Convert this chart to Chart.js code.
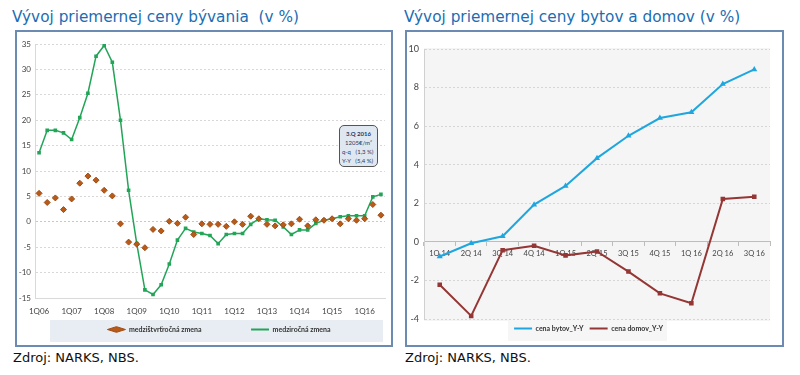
<!DOCTYPE html>
<html>
<head>
<meta charset="utf-8">
<script src="https://cdn.jsdelivr.net/npm/chart.js@4.4.1/dist/chart.umd.min.js"></script>
<style>
  body { margin: 0; background: #fff; }
  #wrap { position: relative; width: 800px; height: 375px; overflow: hidden; font-family: "DejaVu Sans", sans-serif; }
  .title { position: absolute; top: 8px; font-size: 15.3px; color: #1b6db3; white-space: nowrap; }
  .src { position: absolute; top: 350px; font-size: 13px; color: #111; white-space: nowrap; }
  .frame { position: absolute; top: 30px; height: 313px; border: 2px solid #6b8bb3; }
  .box { position: absolute; }
  .callout { position: absolute; left: 339px; top: 125px; width: 37px; height: 40px; background: #dfe7f1;
    border: 1px solid #555; border-radius: 5px; font-family: Lato, sans-serif; font-size: 6px; color: #1f3a66; line-height: 9px; }
  .callout div { white-space: nowrap; }
</style>
</head>
<body>
<div id="wrap">
  <div class="title" style="left:12px">Vývoj priemernej ceny bývania&nbsp; (v %)</div>
  <div class="title" style="left:404px">Vývoj priemernej ceny bytov a domov (v %)</div>
  <div class="frame" style="left:15px; width:374px"></div>
  <div class="frame" style="left:405px; width:375px"></div>
  <div class="box" style="left:17px; top:32px; width:374px; height:311px"><canvas id="left"></canvas></div>
  <div class="box" style="left:407px; top:32px; width:375px; height:311px"><canvas id="right"></canvas></div>
  <div class="callout">
    <div style="text-align:center; font-weight:bold; margin-top:3px">3.Q 2016</div>
    <div style="text-align:center">1205€/m²</div>
    <div style="padding-left:2px">q-q&nbsp;&nbsp; (1,3 %)</div>
    <div style="padding-left:2px">Y-Y&nbsp;&nbsp; (5,4 %)</div>
  </div>
  <div class="src" style="left:13px">Zdroj: NARKS, NBS.</div>
  <div class="src" style="left:405px">Zdroj: NARKS, NBS.</div>
</div>
<script>
// ľavý graf - štvrťroky 1Q06 .. 3Q16
const quarters = [
  '1Q06','2Q06','3Q06','4Q06','1Q07','2Q07','3Q07','4Q07',
  '1Q08','2Q08','3Q08','4Q08','1Q09','2Q09','3Q09','4Q09',
  '1Q10','2Q10','3Q10','4Q10','1Q11','2Q11','3Q11','4Q11',
  '1Q12','2Q12','3Q12','4Q12','1Q13','2Q13','3Q13','4Q13',
  '1Q14','2Q14','3Q14','4Q14','1Q15','2Q15','3Q15','4Q15',
  '1Q16','2Q16','3Q16'
];
const qqChange = [
  5.6, 3.8, 4.7, 2.4, 4.5, 7.6, 9.0, 8.2,
  6.2, 5.1, -0.4, -4.0, -4.4, -5.1, -1.5, -1.8,
  0.1, -0.3, 0.9, -2.5, -0.4, -0.5, -0.5, -0.9,
  0.0, -0.5, 1.1, 0.6, -0.5, -0.8, -0.6, -0.4,
  0.5, -0.8, 0.4, 0.3, 0.6, -0.4, 0.6, 0.3,
  0.6, 3.4, 1.3
];
const yyChange = [
  13.6, 18.0, 18.0, 17.5, 16.2, 20.5, 25.3, 32.6,
  34.7, 31.4, 20.0, 6.2, -4.3, -13.4, -14.3, -12.4,
  -8.3, -3.6, -1.3, -2.0, -2.3, -2.7, -4.3, -2.5,
  -2.3, -2.3, -0.5, 0.6, 0.4, 0.3, -1.0, -2.5,
  -1.6, -1.6, -0.3, 0.3, 0.6, 1.0, 1.2, 1.2,
  1.2, 4.9, 5.4
];

// pravý graf
const quartersRight = ['1Q 14','2Q 14','3Q 14','4Q 14','1Q 15','2Q 15','3Q 15','4Q 15','1Q 16','2Q 16','3Q 16'];
const flatsYY = [-0.76, -0.07, 0.29, 1.93, 2.9, 4.34, 5.5, 6.42, 6.72, 8.18, 8.94];
const housesYY = [-2.22, -3.84, -0.43, -0.2, -0.7, -0.5, -1.54, -2.67, -3.18, 2.22, 2.34];

const tickFont = { family: 'Lato', size: 8 };
const legendFont = { family: 'Lato', size: 7, weight: 'bold' };

// pozadie legendy a plochy grafu, posun legendy
const backdrop = {
  id: 'backdrop',
  afterLayout(chart, args, opts) {
    if (opts.legendShift && chart.legend) {
      chart.legend.left += opts.legendShift * 2;
    }
  },
  beforeDraw(chart, args, opts) {
    const ctx = chart.ctx, a = chart.chartArea, lg = chart.legend;
    ctx.save();
    if (opts.plotBg) {
      ctx.fillStyle = opts.plotBg;
      ctx.fillRect(a.left, a.top - 1, a.right - a.left, a.bottom - a.top + 3);
    }
    if (opts.legendBg && lg) {
      let l, r;
      if (opts.legendFull) {
        l = a.left + 15; r = a.right - 2;
      } else {
        const hb = lg.legendHitBoxes;
        l = hb[0].left - 6;
        r = hb[hb.length - 1].left + hb[hb.length - 1].width + 4;
      }
      ctx.fillStyle = opts.legendBg;
      ctx.fillRect(l, lg.top + 1, r - l, lg.height - 2);
    }
    ctx.restore();
  }
};

new Chart(document.getElementById('left'), {
  type: 'line',
  data: {
    labels: quarters,
    datasets: [{
      label: 'medzištvrťročná zmena',
      data: qqChange,
      showLine: false,
      pointStyle: 'rectRot',
      pointRadius: 3,
      pointBackgroundColor: '#b85a18',
      pointBorderColor: '#a04c14',
      borderColor: '#b85a18',
      backgroundColor: '#b85a18'
    }, {
      label: 'medziročná zmena',
      data: yyChange,
      borderColor: '#23a558',
      backgroundColor: '#23a558',
      borderWidth: 1.5,
      pointStyle: 'rect',
      pointRadius: 1.5,
      tension: 0
    }]
  },
  options: {
    responsive: true,
    maintainAspectRatio: false,
    animation: false,
    layout: { padding: { top: 12, right: 6, left: 0, bottom: 0 } },
    scales: {
      x: {
        offset: true,
        grid: { display: false, drawTicks: false },
        border: { color: '#d9d9d9' },
        ticks: {
          autoSkip: false, maxRotation: 0, padding: 9, font: tickFont, color: '#444',
          callback: function (v) {
            const l = this.getLabelForValue(v);
            return l.startsWith('1Q') ? l : '';
          }
        },
        afterFit: s => { s.height = 21; }
      },
      y: {
        min: -15, max: 35,
        ticks: { stepSize: 5, font: tickFont, color: '#444', padding: 4 },
        grid: {
          drawTicks: false,
          color: ctx => ctx.tick && ctx.tick.value === 0 ? '#c8c8c8' : '#d8d8d8'
        },
        border: { dash: [2, 2], color: '#d9d9d9' },
        afterFit: s => { s.width = 18; }
      }
    },
    plugins: {
      backdrop: { legendBg: '#e8edf3', legendFull: true, legendShift: 18 },
      tooltip: { enabled: false },
      legend: {
        position: 'bottom',
        labels: {
          usePointStyle: true,
          boxHeight: 4,
          pointStyleWidth: 18,
          padding: 7,
          font: legendFont,
          color: '#333',
          generateLabels: chart => Chart.defaults.plugins.legend.labels.generateLabels(chart).map((it, i) => {
            it.pointStyle = i === 0 ? 'rectRot' : 'line';
            it.lineWidth = i === 0 ? 1 : 2;
            if (i === 0) it.text += '\u00a0'.repeat(25);
            return it;
          })
        }
      }
    }
  },
  plugins: [backdrop]
});

new Chart(document.getElementById('right'), {
  type: 'line',
  data: {
    labels: quartersRight,
    datasets: [{
      label: 'cena bytov_Y-Y',
      data: flatsYY,
      borderColor: '#1fa6df',
      backgroundColor: '#1fa6df',
      borderWidth: 2,
      pointRadius: 1.5,
      pointStyle: 'triangle',
      tension: 0
    }, {
      label: 'cena domov_Y-Y',
      data: housesYY,
      borderColor: '#943634',
      backgroundColor: '#943634',
      borderWidth: 2,
      pointRadius: 1.8,
      pointStyle: 'rect',
      tension: 0
    }]
  },
  options: {
    responsive: true,
    maintainAspectRatio: false,
    animation: false,
    layout: { padding: { top: 17, right: 12, left: 0, bottom: 1 } },
    scales: {
      x: {
        position: { y: 0 },
        offset: true,
        grid: { display: true, drawOnChartArea: false, drawTicks: true, tickLength: 4, offset: true, color: '#bdbdbd' },
        border: { color: '#bdbdbd' },
        ticks: { autoSkip: false, maxRotation: 0, padding: 3, font: { family: 'Lato', size: 7.5 }, color: '#444' }
      },
      y: {
        min: -4, max: 10,
        ticks: { stepSize: 2, font: { family: 'Lato', size: 9 }, color: '#444', padding: 5 },
        grid: { drawTicks: false, color: '#d6d6d6' },
        border: { dash: [2, 2], color: '#d0d0d0' },
        afterFit: s => { s.width = 17; }
      }
    },
    plugins: {
      backdrop: { plotBg: '#f5f5f5', legendBg: '#f6f6f6' },
      tooltip: { enabled: false },
      legend: {
        position: 'bottom',
        labels: {
          usePointStyle: true,
          pointStyle: 'line',
          boxHeight: 6,
          pointStyleWidth: 18,
          padding: 6,
          font: legendFont,
          color: '#333',
          generateLabels: chart => Chart.defaults.plugins.legend.labels.generateLabels(chart).map(it => {
            it.pointStyle = 'line';
            it.lineWidth = 2;
            return it;
          })
        }
      }
    }
  },
  plugins: [backdrop]
});
</script>
</body>
</html>
